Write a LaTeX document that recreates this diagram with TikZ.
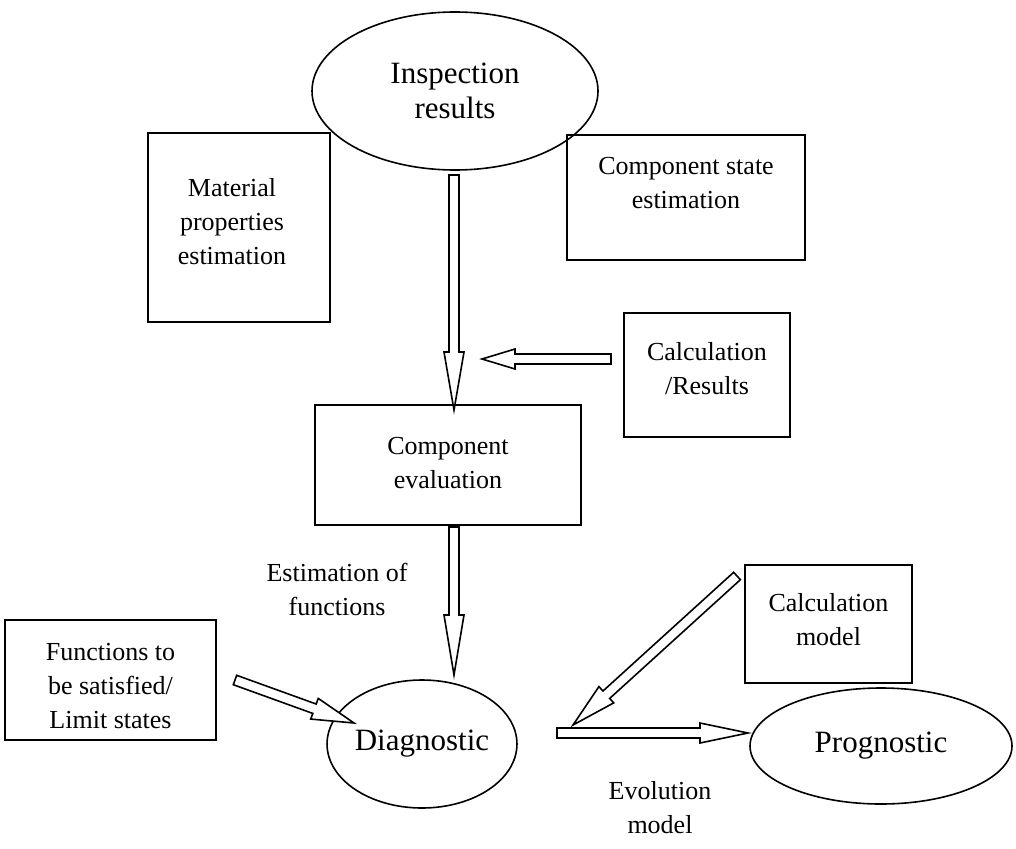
\documentclass[tikz,border=0pt]{standalone}
\usepackage{fontspec}
\setmainfont{Liberation Serif}
\usetikzlibrary{shapes.geometric,calc}
\tikzset{
  box/.style={draw, line width=1.6pt, rectangle, inner sep=0pt},
  oval/.style={draw, line width=1.6pt, ellipse, inner sep=0pt, align=center, font=\fontsize{31}{35}\selectfont},
  lbl/.style={align=center, inner sep=0pt, font=\fontsize{26}{34}\selectfont},
  barrow/.style={draw, line width=1.6pt, fill=white, line join=miter}
}
\newcommand\blockarr[5]{%
  \draw[barrow] let \p1=($(#2)-(#1)$), \n1={veclen(\x1,\y1)}, \n2={atan2(\y1,\x1)} in
    [shift={(#1)}, rotate=\n2]
    (0,-#3) -- ({\n1-#5},-#3) -- ({\n1-#5},-#4) -- (\n1,0) -- ({\n1-#5},#4) -- ({\n1-#5},#3) -- (0,#3) -- cycle;}
\begin{document}
\begin{tikzpicture}[x=1pt,y=-1pt]
\useasboundingbox (0,0) rectangle (1016,848);
% ellipses
\node[oval, minimum width=286pt, minimum height=158pt] (insp) at (455,91) {Inspection\\results};
\node[oval, minimum width=184pt, minimum height=128pt] (diag) at (422,744) {Diagnostic};
\node[oval, minimum width=262pt, minimum height=116pt] (prog) at (881,746) {Prognostic};
% boxes
\node[box, minimum width=182pt, minimum height=189pt] (mat) at (239,227.5) {};
\node[lbl] (matT) at (232,222) {Material\\properties\\estimation};
\node[box, minimum width=238pt, minimum height=125pt] (cse) at (686,197.5) {};
\node[lbl] (cseT) at (686,183) {Component state\\estimation};
\node[box, minimum width=166pt, minimum height=124pt] (calc) at (707,375) {};
\node[lbl] (calcT) at (707,369) {Calculation\\/Results};
\node[box, minimum width=266pt, minimum height=120pt] (ceval) at (448,465) {};
\node[lbl] (cevalT) at (448,463) {Component\\evaluation};
\node[box, minimum width=167pt, minimum height=118pt] (cmod) at (828.5,624) {};
\node[lbl] (cmodT) at (828.5,620) {Calculation\\model};
\node[box, minimum width=211pt, minimum height=120pt] (func) at (110.5,680) {};
\node[lbl] (funcT) at (110.5,686) {Functions to\\be satisfied/\\Limit states};
% free labels
\node[lbl] (estf) at (337,589) {Estimation of\\functions};
\node[lbl] (evol) at (660,808) {Evolution\\model};
% arrow ends
\coordinate (a1s) at (454,175);
\coordinate (a1e) at (454,410);
\coordinate (a2s) at (611,359);
\coordinate (a2e) at (482,359);
\coordinate (a3s) at (454,527);
\coordinate (a3e) at (454,675);
\coordinate (a4s) at (235,680);
\coordinate (a4e) at (354,723);
\coordinate (a5s) at (737,576);
\coordinate (a5e) at (573,725);
\coordinate (a6s) at (557,733);
\coordinate (a6e) at (748,733);
\blockarr{a1s}{a1e}{5}{10}{58}
\blockarr{a2s}{a2e}{5}{10}{33}
\blockarr{a3s}{a3e}{5}{10}{60}
\blockarr{a4s}{a4e}{5}{11}{42}
\blockarr{a5s}{a5e}{5}{11}{45}
\blockarr{a6s}{a6e}{5}{10}{48}
\end{tikzpicture}
\end{document}
